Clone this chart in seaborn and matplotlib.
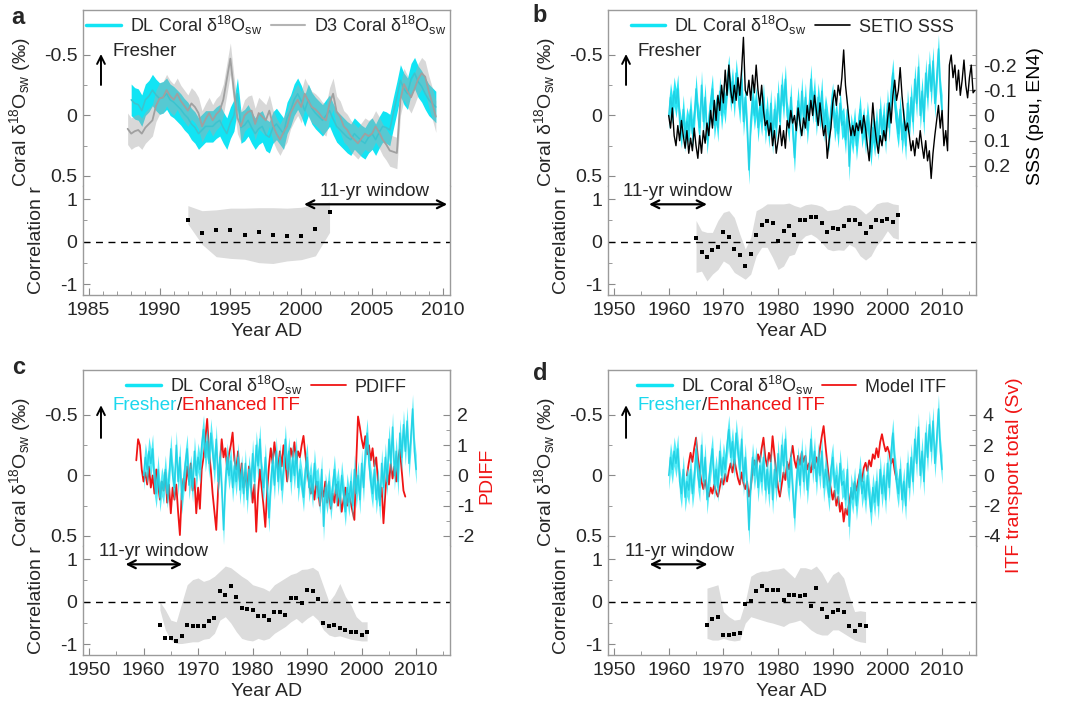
import numpy as np
import matplotlib
matplotlib.use('Agg')
import matplotlib.pyplot as plt
import seaborn as sns
from matplotlib.lines import Line2D
from matplotlib.ticker import FixedLocator, MultipleLocator

# ---- data ---------------------------------------------------------------
# panel a: DL and D3 coral d18Osw, quarterly
dl_a = [-0.13, -0.10, -0.09, -0.04, -0.13, -0.16, -0.21, -0.17,
        -0.14, -0.15, -0.18, -0.13, -0.11, -0.08, -0.05, -0.01,
        0.02, 0.07, 0.10, 0.15, 0.12, 0.09, 0.09, 0.09,
        0.06, 0.04, 0.10, 0.15, 0.06, 0.00, -0.18, 0.10,
        0.08, 0.04, 0.10, 0.15, 0.11, 0.09, 0.16, 0.18,
        0.10, 0.07, 0.11, 0.15, 0.02, -0.04, -0.13, -0.18,
        -0.12, -0.04, -0.13, -0.06, -0.02, 0.01, 0.04, 0.00,
        -0.04, 0.03, 0.09, 0.12, 0.15, 0.18, 0.20, 0.15,
        0.18, 0.21, 0.23, 0.18, 0.15, 0.20, 0.14, 0.09,
        0.10, 0.12, -0.02, -0.15, -0.29, -0.22, -0.18, -0.30,
        -0.35, -0.28, -0.24, -0.18, -0.13, -0.10, -0.07]
d3_a = [0.11,
        0.15, 0.13, 0.12, 0.15, 0.10, 0.07, 0.04, -0.08,
        -0.14, -0.15, -0.21, -0.16, -0.13, -0.18, -0.12, -0.08,
        -0.04, -0.10, -0.07, -0.02, 0.09, 0.03, -0.02, 0.04,
        -0.01, -0.04, -0.13, -0.30, -0.47, -0.20, 0.02, 0.09,
        0.00, -0.03, -0.04, 0.07, -0.02, 0.01, 0.04, -0.04,
        0.08, 0.15, 0.20, 0.14, 0.09, -0.02, -0.08, -0.13,
        -0.07, -0.18, -0.12, -0.07, -0.05, -0.02, 0.02, 0.04,
        -0.10, -0.18, -0.03, 0.01, 0.09, 0.12, 0.17, 0.20,
        0.23, 0.19, 0.15, 0.17, 0.15, 0.09, 0.14, 0.20,
        0.24, 0.29, 0.30, 0.31, -0.13, -0.26, -0.20, -0.15,
        -0.22, -0.30, -0.35, -0.32, -0.20, -0.10, 0.01]
yr_dl_a = np.linspace(1988.0, 2009.5, len(dl_a))
yr_d3_a = np.linspace(1987.75, 2009.5, len(d3_a))
err_dl_a = 0.13
err_d3_a = 0.13

# panels b-d: DL coral d18Osw, 3 per year 1960-2010
dl = [0.00, -0.15, -0.05, -0.20, -0.10, -0.22, 0.05, 0.15, -0.05,
      0.18, 0.05, 0.12, -0.05, 0.15, 0.02, -0.22, 0.00, 0.10,
      -0.25, 0.05, -0.15, 0.20, 0.05, -0.10, -0.22, 0.08, -0.05,
      0.10, -0.20, 0.00, -0.15, -0.05, -0.25, -0.38, -0.15, -0.28,
      -0.10, -0.35, -0.20, -0.05, -0.30, 0.05, -0.15, 0.10, 0.45,
      0.05, -0.15, 0.00, -0.12, 0.10, -0.08, 0.05, -0.15, 0.12,
      -0.05, 0.15, -0.10, 0.20, -0.05, 0.10, -0.18, 0.05, -0.25,
      -0.08, -0.30, 0.00, 0.10, -0.15, 0.12, 0.35, 0.05, -0.12,
      0.08, -0.20, 0.05, -0.15, 0.12, -0.05, -0.30, -0.05, -0.20,
      0.05, -0.15, 0.00, -0.20, 0.10, -0.05, 0.05, 0.18, -0.05,
      -0.15, 0.10, 0.00, 0.15, -0.10, 0.08, 0.05, 0.20, -0.05,
      0.42, 0.10, 0.20, 0.05, 0.25, 0.10, -0.05, 0.15, 0.05,
      0.20, 0.00, 0.15, 0.30, 0.10, 0.22, 0.05, 0.25, -0.05,
      0.15, 0.00, 0.20, -0.10, 0.10, -0.20, -0.35, -0.10, 0.05,
      0.15, -0.05, 0.20, 0.05, 0.25, -0.10, 0.10, -0.15, 0.05,
      -0.30, -0.10, -0.40, 0.00, -0.20, 0.05, -0.35, -0.15, -0.42,
      -0.20, -0.45, -0.10, -0.30, -0.55, -0.20, -0.05]
yr_dl = np.linspace(1960.0, 2010.0, len(dl))
err_dl = 0.12

# panel b: SETIO SSS (psu, EN4), 3 per year 1960-2016
sss = [0.00, 0.05, -0.03, 0.08, 0.12, 0.04, 0.10, 0.02, 0.08,
       0.13, 0.06, 0.15, 0.09, 0.14, 0.05, 0.12, 0.17, 0.08,
       0.15, 0.06, 0.11, 0.03, 0.08, -0.02, 0.05, -0.06, 0.02,
       -0.08, -0.02, -0.12, -0.05, -0.18, -0.08, -0.20, -0.10, -0.05,
       -0.12, -0.06, -0.15, -0.08, -0.18, -0.31, -0.10, -0.08, -0.14,
       -0.06, -0.16, -0.09, -0.20, -0.10, -0.04, -0.12, -0.02, 0.04,
       0.02, 0.08, 0.03, 0.12, 0.06, 0.15, 0.10, 0.04, 0.12,
       0.06, 0.13, 0.02, 0.05, -0.02, 0.03, 0.00, 0.06, -0.03,
       0.03, 0.08, 0.01, 0.05, -0.04, 0.02, -0.06, 0.00, -0.08,
       -0.02, 0.04, -0.05, 0.02, 0.08, 0.04, 0.17, 0.10, 0.05,
       -0.05, -0.10, -0.04, -0.12, -0.08, -0.15, -0.26, -0.12, -0.05,
       0.02, 0.08, 0.04, 0.08, 0.03, 0.06, 0.02, 0.07, 0.00,
       0.05, 0.12, 0.18, 0.06, -0.05, 0.04, 0.10, 0.15, 0.08,
       0.12, 0.06, 0.10, 0.02, -0.05, 0.03, -0.08, -0.14, -0.06,
       -0.10, -0.19, -0.08, 0.00, 0.06, 0.03, 0.08, 0.14, 0.10,
       0.16, 0.09, 0.13, 0.06, 0.12, 0.17, 0.10, 0.18, 0.14,
       0.25, 0.15, 0.08, 0.02, -0.04, 0.05, -0.02, 0.12, 0.06,
       0.14, -0.20, -0.24, -0.15, -0.20, -0.10, -0.18, -0.08, -0.14,
       -0.22, -0.12, -0.07, -0.15, -0.20, -0.09, -0.10]
yr_sss = np.linspace(1960.0, 2016.0, len(sss))

# panel c: PDIFF, 3 per year 1958.67-2008
pdiff = [0.5,
         1.2, 1.0, 0.2, -0.2, 0.1, -0.3, 0.3, -0.4, 0.0,
         -0.6, 0.2, -0.3, -0.8, -0.2, -0.5, 0.1, -0.9, -0.3,
         -1.25, -0.4, -0.8, -0.3, -1.2, -1.97, -0.6, -0.1, -0.5,
         0.3, -0.2, 0.4, -0.5, -0.1, -1.25, -0.4, -1.1, 0.2,
         0.6, 1.2, 1.87, 0.8, 0.2, -0.6, -1.2, -1.8, -0.5,
         0.4, 1.2, 0.6, 0.9, 0.2, 0.7, 1.0, 1.42, 0.5,
         0.2, 0.8, -0.2, 0.4, -0.4, 0.1, -0.5, 0.3, -0.2,
         -0.9, -0.3, -1.86, -0.6, 0.2, -0.4, -1.0, -1.7, -0.5,
         0.3, 0.9, 0.4, 1.1, 0.5, 0.2, 0.8, 0.3, 1.0,
         0.5, -0.2, 0.4, 0.9, 0.6, 1.1, 0.4, 0.8, 0.6,
         1.0, 1.31, 0.7, 0.2, -0.24, -0.6, -0.3, -0.8, -0.2,
         -0.5, -1.0, -0.4, -0.7, -0.2, -0.9, -0.5, -1.1, -0.6,
         -0.9, -0.3, -1.0, -0.6, -1.2, -0.8, -0.4, -1.0, -0.6,
         -0.9, -1.2, -1.47, 0.4, 1.95, 1.6, 1.2, 0.9, 1.3,
         0.7, 1.0, 0.5, 0.9, 0.3, 0.6, -0.2, -0.8, -0.4,
         -1.58, -0.6, 0.2, -0.3, 0.4, -0.1, 0.3, -0.2, 0.5,
         0.87, 0.2, -0.5, -0.7]
yr_pdiff = np.linspace(1958.67, 2008.0, len(pdiff))

# panel d: model ITF transport (Sv), 3 per year 1963.33-2001.67
itf = [0.0, 0.8,
       1.5, 0.9, 1.8, 2.5, 1.2, 0.3, -0.4, -0.9, -0.3,
       -1.0, -1.4, -0.8, -1.2, -0.6, -1.1, -1.4, -0.8, -0.2,
       -0.6, 0.1, -0.4, 0.3, 0.8, 0.2, 1.07, 0.4, -0.2,
       -0.6, 0.2, -0.5, -0.9, -0.4, -1.4, -0.8, 0.3, 1.0,
       0.5, 1.4, 0.9, 1.8, 2.5, 1.2, 0.6, 1.5, 0.9,
       2.6, 1.4, 0.2, -0.8, -1.4, -0.6, 0.2, -0.3, 0.9,
       0.4, 1.2, 1.96, 1.0, 0.5, 1.3, 0.7, 1.5, 0.9,
       1.3, 0.4, 0.8, 0.2, 0.9, 0.5, 1.2, 0.7, 1.8,
       2.6, 3.27, 2.0, 0.8, -0.3, -0.9, -1.6, -1.0, -2.0,
       -1.4, -2.4, -1.8, -3.05, -2.2, -2.6, -1.8, -1.1, -1.5,
       -0.5, -1.0, -0.3, 0.2, -0.4, 0.5, 0.84, 0.3, 1.0,
       0.6, 1.4, 1.1, 1.8, 1.2, 2.2, 2.73, 2.1, 1.6,
       1.9, 1.51, 0.8, 1.1, 0.3, -0.27]
yr_itf = np.linspace(1963.33, 2001.67, len(itf))

# running 11-yr correlations with confidence envelopes
yr_r_a = np.arange(1992, 2003)
r_a = [0.51, 0.20, 0.28, 0.28, 0.17, 0.24, 0.16, 0.13, 0.13, 0.31, 0.69]
r_a_hi = [0.85, 0.73, 0.75, 0.79, 0.79, 0.80, 0.80, 0.79, 0.81, 0.89, 0.93]
r_a_lo = [0.42, -0.06, -0.35, -0.39, -0.41, -0.49, -0.51, -0.45, -0.42, -0.33, 0.22]

yr_r_b = np.arange(1965, 2003)
r_b = [0.10, -0.25, -0.35, -0.20, -0.13, 0.24, 0.11, -0.17, -0.31, -0.57,
       -0.29, 0.15, 0.40, 0.49, 0.44, 0.03, 0.25, 0.38, 0.15, 0.52,
       0.52, 0.58, 0.58, 0.43, 0.24, 0.33, 0.30, 0.38, 0.52, 0.50,
       0.41, 0.20, 0.34, 0.51, 0.49, 0.54, 0.46, 0.63]
r_b_hi = [0.50, 0.26, 0.22, 0.22, 0.50, 0.69, 0.73, 0.57, 0.18, -0.17,
          0.10, 0.73, 0.80, 0.89, 0.89, 0.89, 0.89, 0.91, 0.85, 0.81,
          0.87, 0.89, 0.87, 0.83, 0.73, 0.75, 0.77, 0.85, 0.87, 0.85,
          0.77, 0.65, 0.75, 0.89, 0.93, 0.94, 0.89, 0.87]
r_b_lo = [-0.72, -0.69, -0.92, -0.76, -0.65, -0.45, -0.53, -0.72, -0.80, -0.88,
          -0.76, -0.33, -0.13, -0.13, -0.37, -0.65, -0.57, -0.33, -0.29, 0.02,
          0.14, 0.18, 0.10, -0.02, -0.17, -0.21, -0.19, -0.20, -0.06, -0.13,
          -0.33, -0.43, -0.33, -0.09, 0.06, 0.26, 0.10, 0.06]

yr_r_c = np.arange(1963, 2002)
r_c = [-0.55, -0.85, -0.85, -0.92, -0.80, -0.55, -0.57, -0.57, -0.58, -0.44,
       -0.39, 0.25, 0.15, 0.37, 0.11, -0.15, -0.17, -0.19, -0.34, -0.33,
       -0.43, -0.25, -0.25, -0.32, 0.09, 0.09, -0.02, 0.28, 0.26, 0.07,
       -0.51, -0.58, -0.55, -0.62, -0.67, -0.70, -0.72, -0.78, -0.70]
r_c_hi = [0.00, -0.19, -0.43, -0.47, -0.03, 0.40, 0.52, 0.56, 0.48, 0.52,
          0.60, 0.72, 0.84, 0.80, 0.70, 0.60, 0.52, 0.40, 0.36, 0.32,
          0.25, 0.40, 0.48, 0.56, 0.64, 0.68, 0.76, 0.77, 0.81, 0.72,
          0.36, 0.00, 0.17, 0.43, 0.13, -0.07, -0.35, -0.47, -0.47]
r_c_lo = [-0.19, -0.66, -0.90, -0.98, -0.98, -0.96, -0.94, -0.94, -0.88, -0.86,
          -0.74, -0.43, -0.35, -0.50, -0.70, -0.86, -0.90, -0.92, -0.86, -0.90,
          -0.86, -0.74, -0.66, -0.58, -0.47, -0.39, -0.50, -0.39, -0.31, -0.43,
          -0.66, -0.78, -0.82, -0.80, -0.84, -0.88, -0.90, -0.92, -0.92]

yr_r_d = np.arange(1967, 1997)
r_d = [-0.55, -0.40, -0.35, -0.78, -0.78, -0.76, -0.73, -0.06, 0.02, 0.25,
       0.36, 0.27, 0.27, 0.27, 0.05, 0.17, 0.17, 0.13, 0.17, -0.09,
       0.32, -0.17, -0.35, -0.23, -0.19, -0.24, -0.57, -0.68, -0.55, -0.58]
r_d_hi = [0.32, 0.36, 0.40, -0.23, -0.35, -0.43, -0.41, 0.00, 0.60, 0.68,
          0.72, 0.72, 0.76, 0.77, 0.80, 0.68, 0.56, 0.80, 0.80, 0.76,
          0.84, 0.68, 0.44, 0.64, 0.72, 0.56, 0.13, -0.23, -0.21, -0.23]
r_d_lo = [-0.86, -0.90, -0.90, -0.86, -0.90, -0.92, -0.90, -0.50, -0.35, -0.39,
          -0.43, -0.47, -0.50, -0.54, -0.58, -0.50, -0.47, -0.43, -0.54, -0.66,
          -0.74, -0.78, -0.78, -0.66, -0.66, -0.74, -0.82, -0.90, -0.94, -0.96]

# ---- style ---------------------------------------------------------------
sns.set_style('ticks')
plt.rcParams['font.family'] = ['Liberation Sans', 'DejaVu Sans']
plt.rcParams['mathtext.fontset'] = 'custom'
plt.rcParams['mathtext.rm'] = 'Liberation Sans'
plt.rcParams['mathtext.it'] = 'Liberation Sans:italic'
plt.rcParams['axes.unicode_minus'] = False

W, H = 1066, 705
FRAME = '#9b9b9b'
TICK = '#8a8a8a'
CYAN = '#12e4f4'
CYAN_LINE = '#1fd0e4'
RED = '#f01414'
FS = 14

coral_lab = 'Coral δ$^{18}$O$_{\\mathrm{sw}}$ (‰)'
dl_lab = 'DL Coral δ$^{18}$O$_{\\mathrm{sw}}$'
d3_lab = 'D3 Coral δ$^{18}$O$_{\\mathrm{sw}}$'

fig = plt.figure(figsize=(10.66, 7.05), dpi=100)


def box(l, t, r, b):
    return [l / W, 1 - b / H, (r - l) / W, (b - t) / H]


def panel(left, top, right, xlim, xticks, minor):
    split, bottom = top + 176, top + 285
    ax_u = fig.add_axes(box(left, top, right, split))
    ax_l = fig.add_axes(box(left, split, right, bottom))
    for ax in (ax_u, ax_l):
        ax.set_xlim(*xlim)
        for s in ax.spines.values():
            s.set_color(FRAME)
            s.set_linewidth(1)
        ax.tick_params(which='both', direction='in', color=TICK, labelsize=FS,
                       pad=4, right=False, top=False)
        ax.tick_params(which='major', length=5)
        ax.tick_params(which='minor', length=3)
    ax_u.spines['bottom'].set_visible(False)
    ax_l.spines['top'].set_visible(False)
    ax_u.tick_params(axis='x', which='both', bottom=False, labelbottom=False)
    ax_u.set_ylim(0.583, -0.872)
    ax_u.set_yticks([-0.5, 0, 0.5], ['-0.5', '0', '0.5'])
    ax_u.yaxis.set_minor_locator(FixedLocator([-0.25, 0.25]))
    ax_l.set_ylim(-1.25, 1.31)
    ax_l.set_yticks([-1, 0, 1], ['-1', '0', '1'])
    ax_l.yaxis.set_minor_locator(FixedLocator([-0.5, 0.5]))
    ax_l.set_xticks(xticks, [str(v) for v in xticks])
    ax_l.xaxis.set_minor_locator(MultipleLocator(minor))
    ax_l.tick_params(axis='x', pad=5)
    ax_u.set_ylabel(coral_lab, fontsize=FS)
    ax_u.yaxis.set_label_coords(-0.136, 0.42)
    ax_l.set_ylabel('Correlation r', fontsize=FS)
    ax_l.yaxis.set_label_coords(-0.104, 0.5)
    ax_l.set_xlabel('Year AD', fontsize=FS, labelpad=3)
    ax_l.axhline(0, color='black', lw=1, ls=(0, (5, 4)), zorder=1)
    return ax_u, ax_l


def corr(ax, yrs, r, lo, hi, arrow_x, text_x):
    ax.fill_between(yrs, lo, hi, color='#dcdcdc', lw=0, zorder=0)
    sns.scatterplot(x=yrs, y=r, ax=ax, marker='s', s=10, color='black',
                    linewidth=0, zorder=3, legend=False)
    ax.annotate('', xy=(arrow_x[1], 0.88), xytext=(arrow_x[0], 0.88),
                arrowprops=dict(arrowstyle='<->', lw=1.6, color='black',
                                shrinkA=0, shrinkB=0, mutation_scale=14))
    ax.text(text_x, 1.17, '11-yr window', fontsize=13.5, ha='center', va='center')


def dl_band(ax, yrs, vals, err, alpha, zorder):
    v = np.array(vals)
    ax.fill_between(yrs, v - err, v + err, color=CYAN, alpha=alpha, lw=0, zorder=zorder)
    sns.lineplot(x=yrs, y=v, ax=ax, color=CYAN_LINE, lw=1.1, estimator=None,
                 sort=False, zorder=zorder + 0.1, alpha=0.9)


def fresher(ax, ya, yb, yt, two_colour):
    ax.annotate('', xy=(0.049, yb), xytext=(0.049, ya), xycoords='axes fraction',
                arrowprops=dict(arrowstyle='->', lw=1.4, color='black',
                                shrinkA=0, shrinkB=0, mutation_scale=14))
    if not two_colour:
        ax.text(0.08, yt, 'Fresher', transform=ax.transAxes, fontsize=13.5, va='center')
    else:
        t1 = ax.text(0.08, yt, 'Fresher', transform=ax.transAxes, fontsize=13.5,
                     va='center', color='#1ad8ee')
        t2 = ax.annotate('/', xy=(1, 0), xycoords=t1, fontsize=13.5, va='bottom')
        ax.annotate('Enhanced ITF', xy=(1, 0), xycoords=t2, fontsize=13.5,
                    va='bottom', color=RED)


def right_axis(ax_u, factor, ticks, labels, minors, label, colour, lab_x):
    tw = ax_u.twinx()
    lo, hi = ax_u.get_ylim()
    tw.set_ylim(lo * factor, hi * factor)
    for side in ('top', 'bottom', 'left'):
        tw.spines[side].set_visible(False)
    tw.spines['right'].set_color(FRAME)
    tw.set_yticks(ticks, labels)
    tw.yaxis.set_minor_locator(FixedLocator(minors))
    tw.tick_params(which='both', direction='in', color=TICK, labelsize=FS, pad=5)
    tw.tick_params(which='major', length=5)
    tw.tick_params(which='minor', length=3)
    tw.set_ylabel(label, fontsize=FS, color=colour)
    tw.yaxis.set_label_coords(lab_x, 0.40)
    return tw


def legend(ax, handles, labels):
    ax.legend(handles, labels, ncol=2, loc='upper center', bbox_to_anchor=(0.5, 1.02),
              frameon=False, fontsize=13, handlelength=1.9, handletextpad=0.5,
              columnspacing=0.5, borderaxespad=0.0)


# ---- panel a --------------------------------------------------------------
au, al = panel(83, 10, 450, (1984.6, 2010.5), list(range(1985, 2011, 5)), 1)
v = np.array(dl_a)
au.fill_between(yr_dl_a, v - err_dl_a, v + err_dl_a, color=CYAN, lw=0, zorder=1)
v3 = np.array(d3_a)
au.fill_between(yr_d3_a, v3 - err_d3_a, v3 + err_d3_a, color='#aaaaaa', alpha=0.45,
                lw=0, zorder=2)
sns.lineplot(x=yr_dl_a, y=v, ax=au, color='#3cc4cf', lw=1.1, estimator=None, sort=False, zorder=3)
sns.lineplot(x=yr_d3_a, y=v3, ax=au, color='#a0a0a0', lw=1.3, estimator=None, sort=False, zorder=4)
legend(au, [Line2D([], [], color=CYAN, lw=2.5), Line2D([], [], color='#b4b4b4', lw=1.5)],
       [dl_lab, d3_lab])
fresher(au, 0.574, 0.75, 0.762, False)
corr(al, yr_r_a, r_a, r_a_lo, r_a_hi, (2000.2, 2010.3), 2005.2)

# ---- panel b --------------------------------------------------------------
bu, bl = panel(608, 10, 976, (1948.9, 2016.2), list(range(1950, 2011, 10)), 5)
tb = right_axis(bu, 0.48, [-0.2, -0.1, 0, 0.1, 0.2], ['-0.2', '-0.1', '0', '0.1', '0.2'],
                [-0.24, -0.15, -0.05, 0.05, 0.15, 0.24], 'SSS (psu, EN4)', 'black', 1.139)
dl_band(bu, yr_dl, dl, err_dl, 0.9, 1)
sns.lineplot(x=yr_sss, y=sss, ax=tb, color='black', lw=1.0, estimator=None, sort=False)
legend(bu, [Line2D([], [], color=CYAN, lw=2.5), Line2D([], [], color='black', lw=1.2)],
       [dl_lab, 'SETIO SSS'])
fresher(bu, 0.574, 0.75, 0.762, False)
corr(bl, yr_r_b, r_b, r_b_lo, r_b_hi, (1956.4, 1967.0), 1961.6)

# ---- panel c --------------------------------------------------------------
cu, cl = panel(83, 370, 450, (1948.9, 2016.2), list(range(1950, 2011, 10)), 5)
tc = right_axis(cu, -4.0, [-2, -1, 0, 1, 2], ['-2', '-1', '0', '1', '2'],
                [-1.5, -0.5, 0.5, 1.5], 'PDIFF', RED, 1.076)
tc.set_zorder(cu.get_zorder() - 1)
cu.patch.set_visible(False)
sns.lineplot(x=yr_pdiff, y=pdiff, ax=tc, color=RED, lw=1.3, estimator=None, sort=False)
dl_band(cu, yr_dl, dl, err_dl, 0.72, 1)
legend(cu, [Line2D([], [], color=CYAN, lw=2.5), Line2D([], [], color=RED, lw=1.3)],
       [dl_lab, 'PDIFF'])
fresher(cu, 0.614, 0.80, 0.80, True)
corr(cl, yr_r_c, r_c, r_c_lo, r_c_hi, (1956.7, 1967.1), 1961.8)

# ---- panel d --------------------------------------------------------------
du, dl_ax = panel(608, 370, 976, (1948.9, 2016.2), list(range(1950, 2011, 10)), 5)
td = right_axis(du, -8.0, [-4, -2, 0, 2, 4], ['-4', '-2', '0', '2', '4'],
                [-3, -1, 1, 3], 'ITF transport total (Sv)', RED, 1.082)
td.set_zorder(du.get_zorder() - 1)
du.patch.set_visible(False)
sns.lineplot(x=yr_itf, y=itf, ax=td, color=RED, lw=1.3, estimator=None, sort=False)
dl_band(du, yr_dl, dl, err_dl, 0.72, 1)
legend(du, [Line2D([], [], color=CYAN, lw=2.5), Line2D([], [], color=RED, lw=1.3)],
       [dl_lab, 'Model ITF'])
fresher(du, 0.614, 0.80, 0.80, True)
corr(dl_ax, yr_r_d, r_d, r_d_lo, r_d_hi, (1956.5, 1967.1), 1962.0)

# panel letters
for lab, x, y in [('a', 18, 17), ('b', 540, 15), ('c', 19, 368), ('d', 540, 374)]:
    fig.text(x / W, 1 - y / H, lab, fontsize=17, fontweight='bold', ha='center', va='center')

fig.savefig('out.png', dpi=100)
